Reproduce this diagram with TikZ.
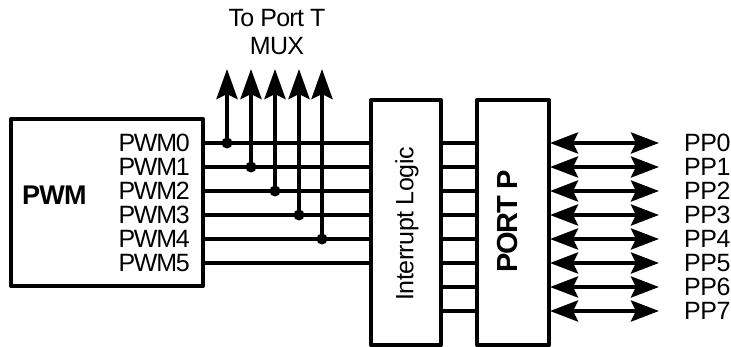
\documentclass[tikz,border=0pt]{standalone}
\usepackage{fontspec}
\setmainfont{Liberation Sans}
\newfontfamily\tighta[LetterSpace=-5]{Liberation Sans}
\newfontfamily\tightb[LetterSpace=-3]{Liberation Sans}
\newfontfamily\tightc[LetterSpace=-2]{Liberation Sans}
\usetikzlibrary{arrows.meta,calc}
\tikzset{
  block/.style={draw,line width=4pt,line join=round,inner sep=0pt,outer sep=0pt,minimum width=#1},
  wire/.style={line width=4pt},
  uparrow/.style={line width=4pt,-{Stealth[length=30pt,width=21pt,inset=5pt]}},
  biarrow/.style={line width=4pt,{Stealth[length=28pt,width=21pt,inset=5pt]}-{Stealth[length=28pt,width=21pt,inset=5pt]}},
  lbl/.style={inner sep=0pt,font=\tighta\fontsize{25}{25}\selectfont},
  pplbl/.style={inner sep=0pt,font=\tightc\fontsize{25}{25}\selectfont},
  jdot/.style={circle,fill=black,inner sep=0pt,minimum size=11pt},
}
\begin{document}
\begin{tikzpicture}[x=1pt,y=-1pt]
\useasboundingbox (0,0) rectangle (731,347);
\node[block=192pt,minimum height=167pt,anchor=north west] (pwm) at (11,119) {};
\node[block=70pt,minimum height=245pt,anchor=north west] (int) at (371,100) {};
\node[block=72pt,minimum height=245pt,anchor=north west] (port) at (477,100) {};
\node[inner sep=0pt,font=\tightb\fontsize{27}{27}\selectfont\bfseries,anchor=west] (pwmt) at (22,195) {PWM};
\node[inner sep=0pt,font=\tightc\fontsize{25}{25}\selectfont,rotate=90] (intt) at (407,224) {Interrupt Logic};
\node[inner sep=0pt,font=\tighta\fontsize{29}{29}\selectfont\bfseries,rotate=90] (portt) at (508,221) {PORT P};
\node[inner sep=0pt,align=center,font=\tightb\fontsize{25}{28}\selectfont] (mux) at (277,32) {To Port T\\MUX};
\foreach \i/\y in {0/143,1/167,2/191,3/215,4/239,5/263} {
  \node[lbl,anchor=east] (p\i) at (190,\y) {PWM\i};
  \coordinate (o\i) at (203,\y);
  \coordinate (a\i) at (371,\y);
  \draw[wire] (o\i) -- (a\i);
}
\foreach \i/\x/\y in {0/227/143,1/251/167,2/275/191,3/299/215,4/322/239} {
  \node[jdot] (j\i) at (\x,\y) {};
  \coordinate (t\i) at (\x,69);
  \draw[uparrow] (j\i.center) -- (t\i);
}
\foreach \i/\y in {0/143,1/167,2/191,3/215,4/239,5/263,6/287,7/311} {
  \coordinate (m\i) at (441,\y);
  \coordinate (n\i) at (477,\y);
  \coordinate (q\i) at (550,\y);
  \coordinate (r\i) at (659,\y);
  \draw[wire] (m\i) -- (n\i);
  \draw[biarrow] (q\i) -- (r\i);
  \node[pplbl,anchor=west] (pp\i) at (684,\y) {PP\i};
}
\end{tikzpicture}
\end{document}
